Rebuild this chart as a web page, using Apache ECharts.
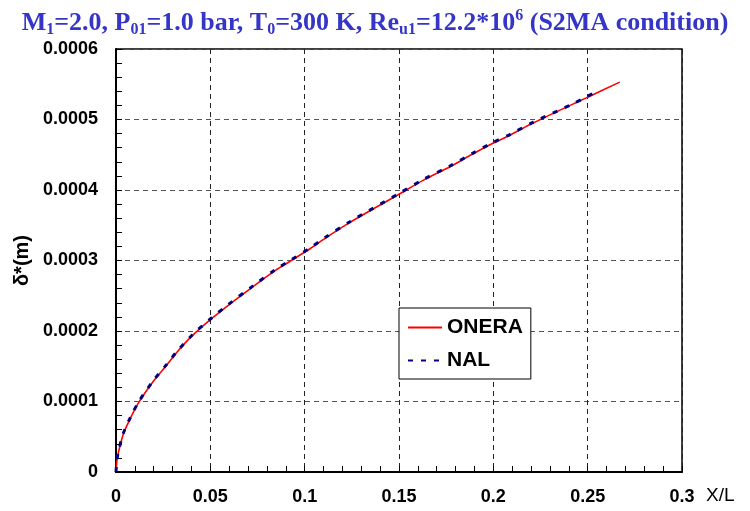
<!DOCTYPE html>
<html>
<head>
<meta charset="utf-8">
<script src="https://cdn.jsdelivr.net/npm/echarts@6/dist/echarts.min.js"></script>
<style>html,body{margin:0;padding:0;background:#fff}#c{width:750px;height:511px}</style>
</head>
<body>
<div id="c"></div>
<script>
const xOnera = [0, 0.0005, 0.0013, 0.0039, 0.0074, 0.0119, 0.0199, 0.027, 0.0323, 0.0403, 0.05, 0.0588, 0.0721, 0.0845, 0.0923, 0.103, 0.110, 0.124, 0.150, 0.163, 0.177, 0.189, 0.2003, 0.209, 0.221, 0.2503, 0.267];
const yOnera = [0, 0.000016, 0.000028, 0.000054, 0.000075, 0.000098, 0.000129, 0.000152, 0.000170, 0.000193, 0.000216, 0.000235, 0.000262, 0.000286, 0.000299, 0.000317, 0.000330, 0.000354, 0.000394, 0.000414, 0.000433, 0.000451, 0.000467, 0.000478, 0.000495, 0.000532, 0.000553];
const xNal = [0, 0.0005, 0.0013, 0.0039, 0.0074, 0.0119, 0.0199, 0.027, 0.0323, 0.0403, 0.05, 0.0588, 0.0721, 0.0845, 0.0923, 0.103, 0.110, 0.124, 0.150, 0.163, 0.177, 0.189, 0.2003, 0.209, 0.221, 0.2420, 0.2555];
const yNal = [0, 0.000017, 0.000029, 0.000055, 0.000076, 0.000099, 0.000130, 0.000153, 0.000171, 0.000194, 0.000217, 0.000236, 0.000263, 0.000287, 0.000300, 0.000318, 0.000331, 0.000355, 0.000395, 0.000415, 0.000434, 0.000452, 0.000468, 0.000479, 0.000496, 0.000522, 0.000541];
const xTicks = [0, 0.05, 0.1, 0.15, 0.2, 0.25, 0.3];
const yTicks = [0, 0.0001, 0.0002, 0.0003, 0.0004, 0.0005, 0.0006];

const pairs = (xs, ys) => xs.map((x, i) => [x, ys[i]]);
const font = 'Liberation Sans, Arial, sans-serif';
const serif = 'Liberation Serif, Times New Roman, serif';
const blue = '#3535c8';
const chart = echarts.init(document.getElementById('c'));
chart.setOption({
  animation: false,
  backgroundColor: '#fff',
  title: {
    text: '{t|M}{s|1}{t|=2.0, P}{s|01}{t|=1.0 bar, T}{s|0}{t|=300 K, Re}{s|u1}{t|=12.2*10}{p|6}{t| (S2MA condition)}',
    left: 'center', top: 3,
    textStyle: {
      rich: {
        t: {fontFamily: serif, fontWeight: 'bold', fontSize: 26, color: blue, lineHeight: 30, verticalAlign: 'middle'},
        s: {fontFamily: serif, fontWeight: 'bold', fontSize: 16, color: blue, lineHeight: 16, verticalAlign: 'bottom'},
        p: {fontFamily: serif, fontWeight: 'bold', fontSize: 16, color: blue, lineHeight: 16, verticalAlign: 'top'}
      }
    }
  },
  grid: {left: 116, right: 68, top: 49, bottom: 39, show: true, borderColor: '#000', borderWidth: 1.5, backgroundColor: 'transparent'},
  legend: {
    orient: 'vertical', left: 399, top: 308,
    padding: [9, 8, 8, 8], itemGap: 12,
    borderColor: '#000', borderWidth: 1, backgroundColor: '#fff',
    itemWidth: 34, itemHeight: 10,
    itemStyle: {opacity: 0},
    textStyle: {fontFamily: font, fontWeight: 'bold', fontSize: 21, color: '#000'},
    data: ['ONERA', 'NAL']
  },
  xAxis: {
    type: 'value', min: 0, max: 0.3, interval: 0.05,
    axisLine: {lineStyle: {color: '#000', width: 2}},
    axisTick: {inside: true, length: 6, lineStyle: {color: '#000'}},
    minorTick: {show: true, splitNumber: 5, length: 6, lineStyle: {color: '#000'}},
    splitLine: {show: true, lineStyle: {color: '#222', type: [5, 4], width: 1}},
    axisLabel: {fontFamily: font, fontWeight: 'bold', fontSize: 18, color: '#000', margin: 16,
      formatter: v => { const t = xTicks.find(k => Math.abs(k - v) < 1e-9); return t === undefined ? '' : String(t); }}
  },
  yAxis: {
    type: 'value', min: 0, max: 0.0006, interval: 0.0001,
    name: 'δ*(m)', nameLocation: 'middle', nameGap: 83,
    nameTextStyle: {fontFamily: font, fontWeight: 'bold', fontSize: 20, color: '#000'},
    axisLine: {show: true, lineStyle: {color: '#000', width: 2}},
    axisTick: {show: true, inside: true, length: 6, lineStyle: {color: '#000'}},
    minorTick: {show: true, splitNumber: 5, length: 6, lineStyle: {color: '#000'}},
    splitLine: {show: true, lineStyle: {color: '#555', type: [5, 4], width: 1}},
    axisLabel: {fontFamily: font, fontWeight: 'bold', fontSize: 18, color: '#000', margin: 18,
      formatter: v => { const t = yTicks.find(k => Math.abs(k - v) < 1e-12); return t === undefined ? '' : (t === 0 ? '0' : t.toFixed(4)); }}
  },
  graphic: [{type: 'text', left: 706, top: 486, style: {text: 'X/L', fontFamily: font, fontSize: 19, fill: '#000'}}],
  series: [
    {name: 'ONERA', type: 'line', data: pairs(xOnera, yOnera), smooth: 0.3, symbol: 'none', showSymbol: false,
      lineStyle: {color: '#ff0000', width: 1.6}, itemStyle: {color: '#ff0000'}, z: 2},
    {name: 'NAL', type: 'line', data: pairs(xNal, yNal), smooth: 0.3, symbol: 'none', showSymbol: false,
      lineStyle: {color: '#000080', width: 3, type: [5, 8]}, itemStyle: {color: '#000080'}, z: 3}
  ]
});
</script>
</body>
</html>
